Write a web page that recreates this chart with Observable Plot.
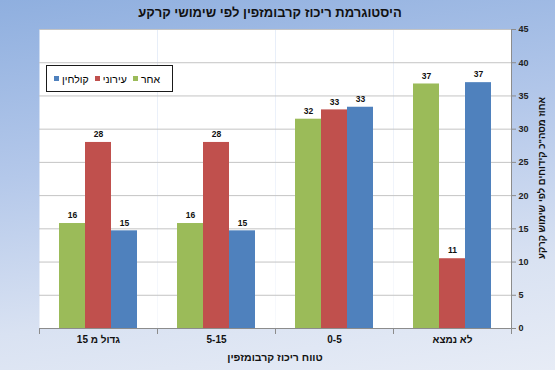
<!DOCTYPE html>
<html><head><meta charset="utf-8">
<script src="https://cdn.jsdelivr.net/npm/d3@7"></script>
<script src="https://cdn.jsdelivr.net/npm/@observablehq/plot@0.6"></script>
<style>
body{margin:0;}
#wrap{position:relative;width:555px;height:370px;overflow:hidden;
 background:linear-gradient(172deg,#8fafdf 0%,#b4c8ea 40%,#d9e2f2 75%,#e7ecf6 100%);
 font-family:"Liberation Sans",Arial,sans-serif;color:#111;}
#wrap svg{position:absolute;left:0;top:0;z-index:1;}
.t{position:absolute;z-index:2;direction:rtl;text-align:center;font-weight:bold;white-space:nowrap;}
#title{left:0;width:540px;top:5px;font-size:13px;line-height:16px;}
#xtitle{left:0;width:550px;top:350px;font-size:10.5px;line-height:14px;}
#ytitle{left:442px;width:200px;top:171px;height:14px;font-size:9.5px;line-height:14px;transform:rotate(-90deg);}
#legend{position:absolute;z-index:3;left:46px;top:65px;width:106px;height:25px;background:#fff;border:1px solid #1a1a1a;
 display:flex;direction:rtl;align-items:center;justify-content:space-between;padding:0 12px 0 7px;box-sizing:content-box;font-size:10.5px;color:#000;}
#legend .it{display:flex;align-items:center;gap:3px;}
#legend .sw{width:5px;height:5px;display:inline-block;}
</style></head>
<body><div id="wrap">
<div id="title" class="t"></div>
<div id="xtitle" class="t"></div>
<div id="ytitle" class="t"></div>
<div id="legend"></div>
</div>
<script>
const categories = ["גדול מ 15", "5-15", "0-5", "לא נמצא"];
const series = ["אחר", "עירוני", "קולחין"];
const seriesColors = ["#9bbb59", "#c0504d", "#4f81bd"];
const valuesOther    = [15.8, 15.8, 31.5, 36.8];
const valuesUrban    = [28.0, 28.0, 32.9, 10.5];
const valuesEffluent = [14.7, 14.7, 33.3, 37.0];
const labelsOther    = [16, 16, 32, 37];
const labelsUrban    = [28, 28, 33, 11];
const labelsEffluent = [15, 15, 33, 37];
const yTicks = [0, 5, 10, 15, 20, 25, 30, 35, 40, 45];
const title = "היסטוגרמת ריכוז קרבומזפין לפי שימושי קרקע";
const xTitle = "טווח ריכוז קרבומזפין";
const yTitle = "אחוז מסה\"כ קידוחים לפי שימוש קרקע";

const seriesValues = [valuesOther, valuesUrban, valuesEffluent];
const seriesLabels = [labelsOther, labelsUrban, labelsEffluent];
const data = [];
categories.forEach((c, i) => series.forEach((s, j) => data.push({cat: c, series: s, value: seriesValues[j][i], label: seriesLabels[j][i]})));

const font = "'Liberation Sans', Arial, sans-serif";
const chart = Plot.plot({
  width: 555, height: 370,
  marginTop: 29, marginBottom: 42, marginLeft: 38, marginRight: 43,
  style: {background: "transparent", fontFamily: font, overflow: "visible"},
  fx: {domain: categories, padding: 0, label: null},
  x: {domain: series, paddingInner: 0, paddingOuter: 0.69, axis: null},
  y: {domain: [0, 45], axis: null},
  color: {domain: series, range: seriesColors},
  marks: [
    Plot.frame({fill: "white", stroke: null}),
    Plot.gridY(yTicks.slice(1), {stroke: "#c4c4c4", strokeOpacity: 1}),
    Plot.barY(data, {fx: "cat", x: "series", y: "value", fill: "series"}),
    Plot.text(data, {fx: "cat", x: "series", y: "value", text: "label", dy: -8, fontWeight: "bold", fontSize: 8.5, fill: "#111"}),
    Plot.ruleY([0], {stroke: "#8c8c8c"}),
    Plot.frame({anchor: "left", stroke: "#8c8c8c", insetTop: 299, insetBottom: -5}),
    Plot.frame({anchor: "right", stroke: "#8c8c8c", insetTop: 299, insetBottom: -5}),
    Plot.frame({anchor: "right", stroke: "#8c8c8c", facet: "super"}),
    Plot.axisY(yTicks, {anchor: "right", tickSize: 4, tickPadding: 3, stroke: "#8c8c8c", fill: "#222", fontWeight: "bold", fontSize: 9, label: null}),
    Plot.axisFx({anchor: "bottom", tickSize: 0, tickPadding: 7, fontWeight: "bold", fontSize: 10, fill: "#111", label: null})
  ]
});
document.getElementById("wrap").appendChild(chart);
document.getElementById("title").textContent = title;
document.getElementById("xtitle").textContent = xTitle;
document.getElementById("ytitle").textContent = yTitle;

const legend = document.getElementById("legend");
series.forEach((s, j) => {
  const it = document.createElement("div");
  it.className = "it";
  it.innerHTML = `<span>${s}</span><span class="sw" style="background:${seriesColors[j]}"></span>`;
  legend.appendChild(it);
});
</script></body></html>
